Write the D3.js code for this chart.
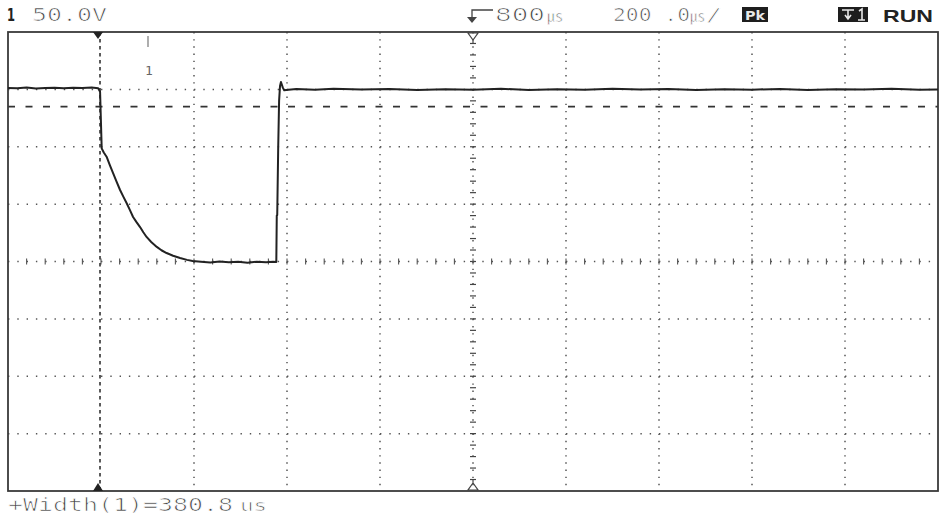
<!DOCTYPE html>
<html>
<head>
<meta charset="utf-8">
<script src="https://cdn.jsdelivr.net/npm/d3@7"></script>
<style>
  html, body { margin: 0; padding: 0; background: #ffffff; }
  svg { display: block; }
</style>
</head>
<body>
<svg id="scope" width="949" height="520"></svg>
<script>
// Channel 1 capture: 50 V/div, 200 us/div, trigger at t = 0 with 800 us delay to screen centre
const timeTicks = [0, 200, 400, 600, 800, 1000, 1200, 1400, 1600];      // us, vertical graticule
const voltTicks = [0, -50, -100, -150, -200, -250, -300];               // V, horizontal graticule
const triggerLevel = -15;                                               // V
const triggerTime = 0;                                                  // us
const centreTime = 800;                                                 // us
const centreVolt = -150;                                                // V

// Trace samples (time in us, voltage in V)
const traceTime = [-200, -180, -160, -140, -120, -100, -80, -60, -40, -20, -6, -2,
  1.5, 6, 12, 19, 26, 33, 41, 48, 55, 62, 69, 76, 84, 91, 98, 108, 120, 130, 141, 155, 170, 185, 197,
  215, 235, 255, 275, 295, 315, 335, 355, 370, 377,
  378, 379, 381, 383, 385, 387, 389, 391, 394, 398,
  420, 460, 500, 560, 620, 680, 740, 800, 860, 920, 980, 1040, 1100, 1160, 1220, 1280,
  1340, 1400, 1460, 1520, 1580, 1640, 1700, 1760, 1800];
const traceVolt = [1.2, 1.0, 1.6, 0.8, 1.3, 1.5, 0.9, 1.4, 1.1, 1.6, 1.0, -2,
  -51.4, -55, -58.7, -66, -72.9, -80, -87.7, -93.5, -99, -105, -111.2, -115.5, -120, -124.5, -128.6,
  -133, -137.3, -140.2, -142.6, -145, -147, -148.6, -149.6,
  -150.2, -150.8, -150.1, -150.6, -150.3, -151.0, -150.2, -150.6, -150.3, -150.4,
  -110, -109.5, -52.8, -10, 3, 6.4, 4, 1.5, -0.8, -0.5,
  0.3, -0.4, 0.5, -0.2, 0.4, -0.6, 0.2, -0.3, 0.5, -0.5, 0.1, -0.4, 0.6, -0.2, 0.3, -0.5,
  0.2, -0.3, 0.4, -0.6, 0.1, -0.2, 0.5, -0.4, -0.2];

const svg = d3.select("#scope");

const scrL = 8, scrR = 938, scrT = 32, scrB = 491;
const x = d3.scaleLinear().domain([-200, 1800]).range([scrL, scrR]);
const y = d3.scaleLinear().domain([50, -350]).range([scrT, scrB]);

const divX = x(200) - x(0);
const divY = y(-50) - y(0);

// Graticule: dotted lines, 10 dots per horizontal division, 8 per vertical division
const grid = svg.append("g");
grid.selectAll("line.v").data(timeTicks.filter(t => t !== centreTime && t !== triggerTime))
  .join("line")
  .attr("x1", d => x(d)).attr("x2", d => x(d))
  .attr("y1", scrT).attr("y2", scrB)
  .attr("stroke", "#555").attr("stroke-width", 1.5)
  .attr("stroke-dasharray", `1.4 ${(divY / 8 - 1.4).toFixed(3)}`);
grid.selectAll("line.h").data(voltTicks.filter(v => v !== centreVolt))
  .join("line")
  .attr("x1", scrL).attr("x2", scrR)
  .attr("y1", d => y(d)).attr("y2", d => y(d))
  .attr("stroke", "#555").attr("stroke-width", 1.5)
  .attr("stroke-dasharray", `1.4 ${(divX / 10 - 1.4).toFixed(3)}`);

// Centre axes with fifth-division ruler ticks
grid.append("line")
  .attr("x1", x(centreTime)).attr("x2", x(centreTime)).attr("y1", scrT).attr("y2", scrB)
  .attr("stroke", "#555").attr("stroke-width", 1.5)
  .attr("stroke-dasharray", `1.4 ${(divY / 8 - 1.4).toFixed(3)}`);
grid.append("line")
  .attr("x1", scrL).attr("x2", scrR).attr("y1", y(centreVolt)).attr("y2", y(centreVolt))
  .attr("stroke", "#555").attr("stroke-width", 1.5)
  .attr("stroke-dasharray", `1.4 ${(divX / 10 - 1.4).toFixed(3)}`);

const vMinor = d3.range(0, 41).map(i => 50 - i * 10);
grid.selectAll("line.vm").data(vMinor.filter(v => v < 50 && v > -350))
  .join("line")
  .attr("x1", x(centreTime) - 3).attr("x2", x(centreTime) + 3)
  .attr("y1", d => y(d)).attr("y2", d => y(d))
  .attr("stroke", "#444").attr("stroke-width", 1.2);
const tMinor = d3.range(0, 51).map(i => -200 + i * 40);
grid.selectAll("line.tm").data(tMinor.filter(t => t > -200 && t < 1800))
  .join("line")
  .attr("x1", d => x(d)).attr("x2", d => x(d))
  .attr("y1", y(centreVolt) - 3).attr("y2", y(centreVolt) + 3)
  .attr("stroke", "#555").attr("stroke-width", 1.1);

// Trigger cursor (time) and trigger level (voltage)
grid.append("line")
  .attr("x1", x(triggerTime) - 1).attr("x2", x(triggerTime) - 1).attr("y1", scrT).attr("y2", scrB)
  .attr("stroke", "#333").attr("stroke-width", 1.6)
  .attr("stroke-dasharray", "3.5 3.5");
grid.append("line")
  .attr("x1", scrL).attr("x2", scrR).attr("y1", y(triggerLevel)).attr("y2", y(triggerLevel))
  .attr("stroke", "#333").attr("stroke-width", 1.6)
  .attr("stroke-dasharray", "7 10.5");

// Screen frame
svg.append("rect")
  .attr("x", scrL).attr("y", scrT).attr("width", scrR - scrL).attr("height", scrB - scrT)
  .attr("fill", "none").attr("stroke", "#3a3a3a").attr("stroke-width", 1.8);

// Trace
const line = d3.line().x((d, i) => x(traceTime[i])).y((d, i) => y(traceVolt[i]));
svg.append("path")
  .attr("d", line(traceVolt))
  .attr("fill", "none").attr("stroke", "#222").attr("stroke-width", 2)
  .attr("stroke-linejoin", "round");

// Channel marker inside the screen
svg.append("line")
  .attr("x1", 148).attr("x2", 148).attr("y1", 36).attr("y2", 47)
  .attr("stroke", "#777").attr("stroke-width", 1.2);
svg.append("text")
  .attr("x", 145).attr("y", 75)
  .attr("font-family", "DejaVu Sans Mono").attr("font-size", 13).attr("fill", "#666")
  .text("1");

// Trigger position markers
const tx = x(triggerTime) - 3;
svg.append("path")
  .attr("d", `M${tx - 5},${scrT} L${tx + 5},${scrT} L${tx},${scrT + 7} Z`).attr("fill", "#222");
svg.append("path")
  .attr("d", `M${tx - 5},${scrB} L${tx + 5},${scrB} L${tx},${scrB - 8} Z`).attr("fill", "#222");
const cx = x(centreTime);
svg.append("path")
  .attr("d", `M${cx - 5},${scrT + 1} L${cx + 5},${scrT + 1} L${cx},${scrT + 8} Z M${cx},${scrT + 8} L${cx},${scrT + 11}`)
  .attr("fill", "none").attr("stroke", "#444").attr("stroke-width", 1.2);
svg.append("path")
  .attr("d", `M${cx - 5},${scrB - 1} L${cx + 5},${scrB - 1} L${cx},${scrB - 8} Z M${cx},${scrB - 8} L${cx},${scrB - 11}`)
  .attr("fill", "none").attr("stroke", "#444").attr("stroke-width", 1.2);

// Header line; thin display lettering is eroded with a white outline
const mono = "DejaVu Sans Mono";
function label(str, x0, x1, yb, opts = {}) {
  const t = svg.append("text")
    .attr("x", x0).attr("y", yb)
    .attr("font-family", opts.family || mono)
    .attr("font-size", opts.size || 17)
    .attr("font-weight", opts.weight || "normal")
    .attr("fill", opts.fill || "#444")
    .attr("textLength", x1 - x0)
    .attr("lengthAdjust", "spacingAndGlyphs")
    .text(str);
  if (opts.thin !== false) t.attr("stroke", "#fff").attr("stroke-width", 0.7);
  return t;
}
label("1", 7, 15, 21, { family: "DejaVu Sans", weight: "bold", fill: "#222", size: 18, thin: false });
label("50.0V", 32, 107, 21);

// Delay arrow
svg.append("path")
  .attr("d", "M493,10 L472,10 L472,19")
  .attr("fill", "none").attr("stroke", "#444").attr("stroke-width", 1.3);
svg.append("path")
  .attr("d", "M467,17 L477,17 L472,23 Z").attr("fill", "#444");
label("800", 495, 545, 21);
label("㎲", 547, 563, 21, { family: "Noto Sans CJK KR", size: 15 });
label("200 .0", 613, 690, 21);
label("㎲", 690, 705, 21, { family: "Noto Sans CJK KR", size: 15 });
label("/", 706, 722, 21);

// Acquisition mode badge
svg.append("rect").attr("x", 742).attr("y", 7).attr("width", 26).attr("height", 15).attr("fill", "#1e1e1e");
label("Pk", 745, 765, 20, { family: "DejaVu Sans", weight: "bold", size: 13, fill: "#e8e8e8", thin: false });

// Trigger source badge
svg.append("rect").attr("x", 838).attr("y", 7).attr("width", 30).attr("height", 15).attr("fill", "#1e1e1e");
svg.append("path")
  .attr("d", "M842,10 L854,10 M848,10 L848,19 M845,15 L848,19 L851,15 M859,11 L862,9 L862,20 M858,20 L865,20")
  .attr("fill", "none").attr("stroke", "#e8e8e8").attr("stroke-width", 1.6);

label("RUN", 883, 933, 22, { family: "Liberation Sans", weight: "bold", size: 17, fill: "#222", thin: false });

// Measurement readout
label("+Width(1)=380.8", 8, 233, 511, { size: 18 });
label("us", 240, 267, 511, { size: 16 });
</script>
</body>
</html>
